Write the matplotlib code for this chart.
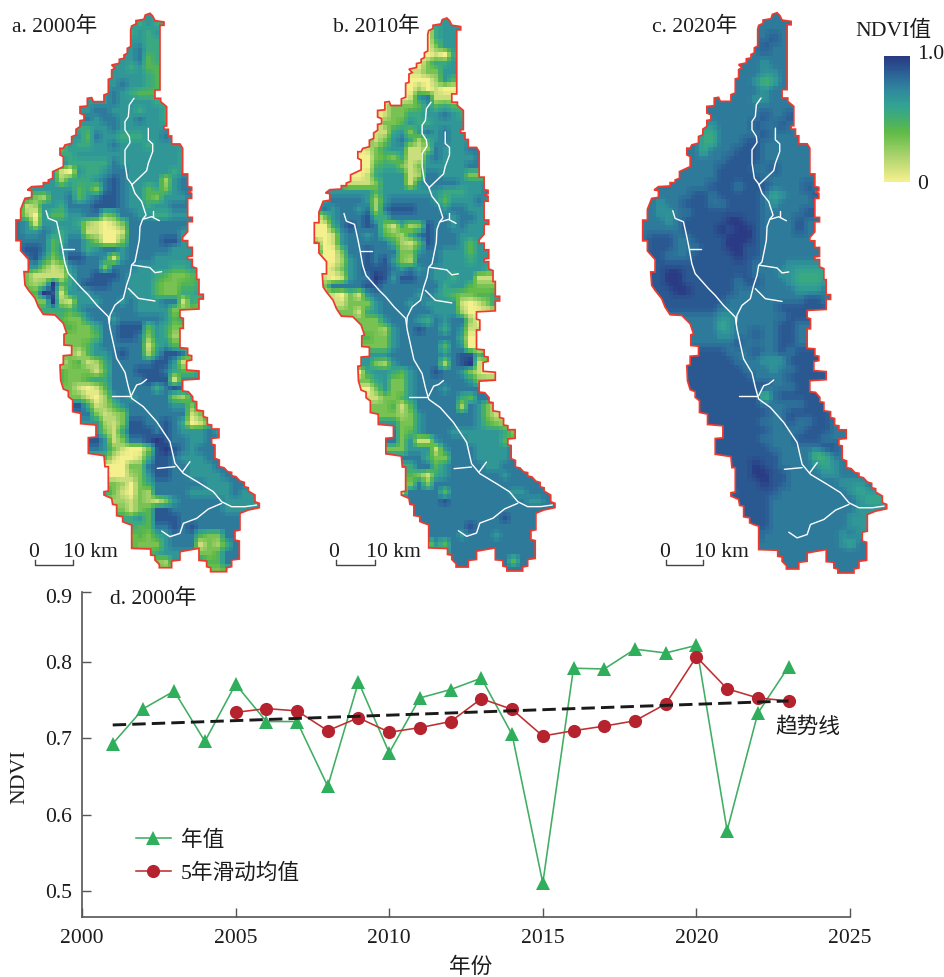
import numpy as np
import matplotlib
matplotlib.use("Agg")
import matplotlib.pyplot as plt
from matplotlib.colors import LinearSegmentedColormap
from matplotlib.lines import Line2D
from matplotlib.patches import Polygon
from matplotlib.transforms import ScaledTranslation

plt.rcParams['font.family'] = ['Liberation Serif', 'Noto Sans CJK SC', 'DejaVu Sans']

# ---------- time series ----------
years = list(range(2001, 2024))
annual_ndvi = [.693, .739, .762, .696, .771, .722, .722, .637, .774, .681, .753, .764,
               .779, .705, .510, .792, .791, .817, .812, .822, .579, .733, .794]
ma_years = list(range(2005, 2024))
moving_avg = [.734, .739, .736, .710, .727, .708, .714, .722, .752, .738, .703, .710,
              .716, .723, .745, .807, .765, .753, .749]
trend_years = [2001, 2023]
trend_values = [.7175, .749]

# ---------- map geometry (map units) ----------
outline_north = [(450,40),(458,48),(465,62),(492,66),(492,76),(480,76),(480,270),(465,270),(465,295),(482,295),
 (482,305),(500,320),(500,378),(492,378),(492,388),(505,388),(505,408),(515,408),(515,432),(540,432),(548,445),
 (548,522),(563,522),(563,560),(575,562),(575,572),(563,575),(575,580),(575,595),(563,595),(563,652),(577,652),
 (577,665),(563,665),(563,695),(548,712),(548,722),(563,722),(563,742),(577,742),(577,768),(563,770),(563,778),
 (577,778),(577,800),(590,805),(590,838),(597,838),(597,855)]
outline_south = [(597,28),(610,28),(610,42),(597,42),(597,72),(540,75),(540,97),(550,100),(550,130),(540,130),
 (540,188),(563,190),(563,210),(575,212),(575,225),(560,228),(560,255),(597,258),(597,282),(548,285),(548,318),
 (565,320),(578,335),(578,348),(590,350),(590,375),(610,378),(610,395),(622,398),(622,418),(635,420),(635,432),
 (657,432),(657,458),(635,460),(635,478),(645,480),(645,520),(658,525),(658,545),(672,548),(683,560),(695,562),
 (695,572),(708,575),(720,588),(733,592),(733,605),(745,608),(745,618),(765,630),(765,650),(778,655),(778,668),
 (745,675),(720,685),(720,735),(705,738),(705,765),(718,768),(718,822),(695,825),(695,845),(680,848),(680,860),
 (632,860),(632,848),(620,845),(620,828),(597,826),(597,790),(585,792),(540,800),(540,825),(515,828),(515,848),
 (478,848),(478,838),(465,825),(465,812),(452,810),(452,792),(395,790),(395,720),(380,715),(368,710),(368,695),
 (350,692),(350,660),(338,658),(335,640),(312,630),(312,620),(325,618),(325,545),(315,545),(312,512),(265,505),
 (265,458),(288,456),(288,420),(242,416),(242,385),(218,380),(218,345),(205,335),(205,318),(190,312),(182,285),
 (180,240),(190,238),(190,212),(215,210),(215,182),(192,180),(192,148),(200,145),(190,115),(165,90),(130,88),
 (115,65),(105,40),(85,15),(75,0)]
outline_back = [(72,815),(85,815),(85,778),(62,752),(62,722),(48,722),(48,660),(62,660),(62,628),(75,595),(95,592),
 (95,572),(82,570),(95,560),(130,558),(130,548),(145,548),(145,540),(158,535),(158,515),(190,500),(190,470),
 (180,465),(180,445),(190,445),(195,435),(215,430),(215,410),(228,405),(228,388),(240,380),(240,362),(252,360),
 (252,345),(240,340),(240,320),(262,318),(262,295),(275,293),(280,305),(312,305),(312,285),(325,280),(325,238),
 (335,235),(335,210),(345,205),(335,195),(358,190),(358,178),(372,175),(372,165),(382,160),(382,145),(392,140),
 (392,90),(395,78),(408,72),(408,62),(432,58),(436,45)]
SOUTH = 855
rivers = [
 [(402,295),(388,315),(385,350),(375,365),(375,390),(388,410),(390,428),(375,450),(375,490),(382,535),(395,552),
  (405,580),(425,605),(438,645),(428,658),(420,680),(418,720),(412,750),(405,785),(395,795),(390,825),(380,855),
  (370,895),(345,915),(330,945),(328,970)],
 [(445,385),(445,420),(458,432),(458,455),(445,490),(440,512),(395,555)],
 [(428,658),(455,650),(478,662)],
 [(458,632),(458,650)],
 [(398,795),(450,803),(465,818),(485,815)],
 [(385,865),(415,895),(465,903)],
 [(138,632),(145,655),(170,665),(180,710),(187,745),(195,790),(205,820),(245,865),(265,885),(290,915),(325,950),
  (330,985),(350,1075),(375,1117),(385,1160),(395,1195),(430,1220),(470,1265),(510,1325),(525,1390),(550,1420),
  (600,1450),(640,1475),(665,1505),(695,1520),(735,1520),(770,1515)],
 [(190,747),(222,747)],
 [(335,1187),(390,1187)],
 [(395,1185),(410,1155),(425,1150),(440,1138)],
 [(472,1405),(525,1400)],
 [(548,1415),(570,1385)],
 [(665,1510),(625,1527),(590,1555),(550,1570),(540,1600),(510,1610),(485,1593)],
]

# ---------- NDVI raster, level 0 (low) to 9 (high), one string per row ----------
row_start = [15,13,13,13,13,12,12,11,11,10,7,7,7,7,6,5,5,5,4,3,1,1,0,0,0,0,0,0,1,1,1,1,2,3,4,5,6,6,7,5,5,5,5,6,7,7,8,
             9,9,9,9,10,11,11,11,10,12,12,13,13,13,13,15,16,23]
ndvi_2000 = ["6","6565","5656","6655","6755","66745","65644","666654","676654","676544","6666766665","66776665665",
 "77677667665","55667666666","6647665556676","36556676665666","556666666666665","755555766666665","6106556776666656",
 "66255567876666267","56666645378766453677","63266746788766436667","61266577788876656677","52064466773477665566",
 "76166665210137777777","76676566110017777776","77774577530037777886","7887467756776777776",
 "78635887761677766666","66312677737776666556","31111577888766654334","323945788877666433445","49816667777666433556",
 "3921666776766677154","554677777766663","433677677777645","4335778884653","3334778873652","346777771564",
 "4314667877268874","134125777778861","43331477788875446","433455777788816","31014777775787","31026767777325",
 "851246777776636","731237777777136","62138877875014","631588878766676","86137789877667","763100389876777",
 "41001588766677","00337887766677","002368877666677","3203577777766677","531032777766666766","21321367777766666",
 "313488777777666","5648887777777","5447787877777","3435677743377","4333677713257","45666633477","326666447","34"]
ndvi_2010 = ["6","0566","0566","0366","0105","03556","13366","000264","020100","016711","1133346454","01335566765",
 "03346556666","11563676766","4136752567666","01356611376667","003435116766667","004553136666677","0015666127766633",
 "31113666167777666","66666646666666555667","67777626777776466676","67677672788877767766","03677785577777776776",
 "00578787315238776766","00167767432578777666","30167777752148777646","60037787773367766646","00267878632777666566",
 "01367888767676666665","10167798688776656611","377778877777775664333","10316777776765433445","1333677767666610136",
 "315677777766620","333677765767720","3326778775761","4336777777750","336777774760","6666777777678846",
 "663267777727891","05665467787763100","335633677777763","03633677767777","13346777775477","334147777727631",
 "332367777776313","63367777776432","734677766666653","73611677766664","336661677766667","77753377766667",
 "57746777766777","431567777776777","3737777777777777","177774777777766777","77787777777776676","777777777777777",
 "7777777778777","7777787777777","7777677767777","2647777777777","57777777777","777777747","77"]
ndvi_2020 = ["7","7777","7777","7787","7877","77777","77677","777667","776457","777767","7777776677","77777777777",
 "77777778778","66777787787","7557777787777","77557778877777","775777888777777","777778888777777","7777788887787777",
 "77777788888777777","77777778887888777787","77777887888887567778","77677888778888767777","77667788888888777778",
 "77767888889988777787","77777888898998777787","78887788889998777777","78887778889988777777","88777888889887777777",
 "88888888888877776666","88998888888877766555","889988888878877765556","88998888877777776667","8888888777777777887",
 "888887777777888","777766777777888","7775677777887","7776677877887","777787777887","8888877787787888",
 "888888777666888","88888887776778888","888888887777888","88888888877788","88888884788888","888888877777888",
 "888888877888887","88888777877887","888888777788877","88888777788877","888888777777887","88888877774577",
 "88988777765677","889988777766777","8889887777776667","788888777777776566","88877777777776555","888777777777766",
 "8877777777766","8877777777766","8777777777676","7777777777657","77777777777","777777777","77"]

panel_titles = ["a. 2000年", "b. 2010年", "c. 2020年"]
panel_rows = [ndvi_2000, ndvi_2010, ndvi_2020]

W, H = 945, 977
fig = plt.figure(figsize=(W/100, H/100), dpi=100, facecolor='white')
TC = '#1c1c1c'
FS = 15.6

def axes_px(x0, x1, y0, y1):
    return fig.add_axes([x0/W, 1-y1/H, (x1-x0)/W, (y1-y0)/H])

def ftext(x, y, s, **kw):
    kw.setdefault('fontsize', FS); kw.setdefault('color', TC)
    kw.setdefault('va', 'center'); kw.setdefault('ha', 'left')
    fig.text(x/W, 1-(y+2.5)/H, s, **kw)

def fline(xs, ys, **kw):
    fig.add_artist(Line2D([x/W for x in xs], [1-y/H for y in ys], transform=fig.transFigure, **kw))

cmap = LinearSegmentedColormap.from_list('ndvi', [
    (0.0, '#f4f08e'), (0.2, '#a9d36c'), (0.4, '#5fba46'), (0.5, '#45ae6c'), (0.6, '#32a490'),
    (0.72, '#2f8b9c'), (0.85, '#2b6598'), (1.0, '#2a3a84')], N=64)

def to_grid(rows, starts, ncol=29):
    grid = np.zeros((len(rows), ncol))
    for i, (r, s) in enumerate(zip(rows, starts)):
        vals = [int(ch) / 9 for ch in r]
        grid[i] = ([vals[0]] * s + vals + [vals[-1]] * ncol)[:ncol]
    return grid

def refine(grid, passes=1):
    """Double the raster resolution so cells show at the map's pixel size."""
    g = np.kron(grid, np.ones((2, 2)))
    for _ in range(passes):
        p = np.pad(g, ((0, 1), (0, 1)), mode='edge')
        g = (p[:-1, :-1] + p[1:, :-1] + p[:-1, 1:] + p[1:, 1:]) / 4
    return g

outline = outline_north + [(x, y + SOUTH) for x, y in outline_south] + outline_back
map_boxes = [(16, 259.3, 13.3, 571.7), (314.3, 555, 18, 571), (642.7, 886.7, 12.7, 573)]
smooth_passes = [1, 1, 2]
im = None
for box, rows, n in zip(map_boxes, panel_rows, smooth_passes):
    ax = axes_px(*box)
    im = ax.imshow(refine(to_grid(rows, row_start), n), cmap=cmap, vmin=0, vmax=1, aspect='auto',
                   interpolation='nearest', extent=(48, 48 + 29*26, 40 + 65*26, 40))
    poly = Polygon(outline, closed=True, fill=False, edgecolor='#ee3a2e', linewidth=1.25,
                   transform=ax.transData, clip_on=False, joinstyle='miter', zorder=4)
    ax.add_patch(poly)
    im.set_clip_path(Polygon(outline, closed=True, transform=ax.transData))
    for river in rivers:
        xs, ys = zip(*river)
        ax.plot(xs, ys, color='white', lw=1.0, zorder=3, solid_capstyle='round')
    ax.set_xlim(48, 778); ax.set_ylim(1715, 40); ax.axis('off')

for x, s in zip([12.5, 333, 652], panel_titles):
    ftext(x, 24, s)

# scale bars
for x0, x1, lab0, lab10 in [(35, 73.3, 34, 63), (336, 375, 334, 366.5), (665.7, 703.3, 664.5, 694)]:
    fline([x0, x0, x1, x1], [560, 564.5, 564.5, 560], color='#444444', lw=1.0)
    ftext(lab0, 550, "0", ha='center')
    ftext(lab10, 550, "10 km")

# colour bar
cax = axes_px(884, 910, 55.7, 182)
cb = fig.colorbar(im, cax=cax, ticks=[0, 1])
cb.ax.set_yticklabels(['0', '1.0'], fontsize=FS, color=TC)
cb.ax.tick_params(length=0, pad=5)
cb.outline.set_visible(False)
lab = cb.ax.get_yticklabels()[1]
lab.set_transform(lab.get_transform() + ScaledTranslation(0, 3/72, fig.dpi_scale_trans))
ftext(855, 28, "NDVI值")

# line chart
ax = axes_px(82, 850, 591.7, 917)
ax.plot(years, annual_ndvi, color='#3fae62', lw=1.15, marker='^', ms=10, mfc='#2fae5c', mec='#2fae5c',
        mew=0, label='年值', zorder=3)
ax.plot(ma_years, moving_avg, color='#bf2f30', lw=1.15, marker='o', ms=9.5, mfc='#b5232e', mec='#b5232e',
        mew=0, label='5年滑动均值', zorder=4)
ax.plot(trend_years, trend_values, color='#1a1a1a', lw=2.1, dashes=(4.6, 2.1), zorder=5)
ax.set_xlim(2000, 2025)
ax.set_ylim(0.4655, 0.8924)
ax.set_xticks([2000, 2005, 2010, 2015, 2020, 2025])
ax.set_yticks([0.5, 0.6, 0.7, 0.8, 0.8924])
ax.set_yticklabels(['0.5', '0.6', '0.7', '0.8', '0.9'])
ax.tick_params(direction='in', length=6.5, width=1.0, color='#555555', labelsize=FS, labelcolor=TC, pad=7)
ax.tick_params(axis='x', pad=8.5)
top_label = ax.get_yticklabels()[-1]
top_label.set_transform(top_label.get_transform() + ScaledTranslation(0, -3/72, fig.dpi_scale_trans))
for s in ['top', 'right']:
    ax.spines[s].set_visible(False)
for s in ['left', 'bottom']:
    ax.spines[s].set_color('#555555'); ax.spines[s].set_linewidth(1.2)
ax.patch.set_alpha(0)
ax.text(2023.62, 0.714, '趋势线', fontsize=FS, color=TC, ha='center', va='center')
ftext(110, 596, "d. 2000年")
ftext(471, 965, "年份", ha='center')
ftext(20, 774, "NDVI", rotation=90, ha='center')
leg = ax.legend(loc='center left', bbox_to_anchor=(136/W, 1-857/H), bbox_transform=fig.transFigure,
                frameon=False, fontsize=FS, handlelength=1.6, handletextpad=0.46, labelspacing=0.55,
                borderpad=0, borderaxespad=0, labelcolor=TC)
fig.savefig('out.png', dpi=100, facecolor='white')
